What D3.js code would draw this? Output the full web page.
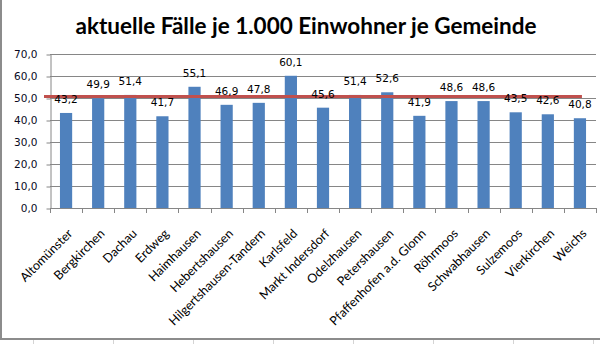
<!DOCTYPE html>
<html>
<head>
<meta charset="utf-8">
<script src="https://cdn.jsdelivr.net/npm/d3@7"></script>
<style>
  html, body { margin: 0; padding: 0; background: #fff; }
  svg { display: block; }
</style>
</head>
<body>
<svg id="chart" width="600" height="344"></svg>
<script>
// Gemeinden im Landkreis Dachau
const categories = [
  "Altomünster", "Bergkirchen", "Dachau", "Erdweg", "Haimhausen",
  "Hebertshausen", "Hilgertshausen-Tandern", "Karlsfeld", "Markt Indersdorf",
  "Odelzhausen", "Petershausen", "Pfaffenhofen a.d. Glonn", "Röhrmoos",
  "Schwabhausen", "Sulzemoos", "Vierkirchen", "Weichs"
];
// aktuelle Fälle je 1.000 Einwohner
const values = [
  43.2, 49.9, 51.4, 41.7, 55.1, 46.9, 47.8, 60.1, 45.6,
  51.4, 52.6, 41.9, 48.6, 48.6, 43.5, 42.6, 40.8
];
// Landkreis-Durchschnitt (rote Linie)
const average = [50.7];
const yTicks = [0, 10, 20, 30, 40, 50, 60, 70];
const title = "aktuelle Fälle je 1.000 Einwohner je Gemeinde";

const svg = d3.select("#chart");
const plot = { left: 50, right: 596, top: 54, bottom: 208 };

const x = d3.scaleBand()
  .domain(categories)
  .range([plot.left, plot.right])
  .paddingInner(0.62)
  .paddingOuter(0.31);

const y = d3.scaleLinear()
  .domain([0, 70])
  .range([plot.bottom, plot.top]);

const fmt = v => d3.format(".1f")(v).replace(".", ",");
const gridColor = "#868686";

// Rahmen des Diagrammobjekts (links und unten sichtbar)
svg.append("line")
  .attr("x1", 1).attr("x2", 1).attr("y1", 0).attr("y2", 339)
  .attr("stroke", "#8c8c8c").attr("stroke-width", 2);
svg.append("line")
  .attr("x1", 0).attr("x2", 600).attr("y1", 339).attr("y2", 339)
  .attr("stroke", "#8c8c8c").attr("stroke-width", 2);
// Zellraster des Tabellenblatts unterhalb
svg.append("g").selectAll("line")
  .data(d3.range(33, 600, 80))
  .join("line")
  .attr("x1", d => d + 0.5).attr("x2", d => d + 0.5)
  .attr("y1", 340).attr("y2", 344)
  .attr("stroke", "#d4d4d4").attr("stroke-width", 1);

// Titel
svg.append("text")
  .attr("x", 306).attr("y", 34)
  .attr("text-anchor", "middle")
  .attr("font-family", "Lato, 'Open Sans', sans-serif")
  .attr("font-weight", "bold")
  .attr("font-size", 22.5)
  .attr("fill", "#000")
  .text(title);

// Gitternetzlinien
svg.append("g").selectAll("line")
  .data(yTicks.slice(1))
  .join("line")
  .attr("x1", plot.left).attr("x2", plot.right)
  .attr("y1", d => Math.round(y(d)) + 0.5).attr("y2", d => Math.round(y(d)) + 0.5)
  .attr("stroke", gridColor).attr("stroke-width", 1);

// Y-Achse
const yAxis = svg.append("g")
  .attr("transform", `translate(${plot.left + 0.5},0.5)`)
  .call(d3.axisLeft(y).tickValues(yTicks).tickFormat(fmt).tickSize(4).tickSizeOuter(0));
yAxis.select(".domain").attr("stroke", gridColor);
yAxis.selectAll(".tick line").attr("stroke", gridColor);
yAxis.selectAll(".tick text")
  .attr("x", -13)
  .attr("font-family", "'DejaVu Sans', Verdana, sans-serif")
  .attr("font-size", 10.5)
  .attr("fill", "#0a0a1e");

// Balken
svg.append("g").selectAll("rect")
  .data(values)
  .join("rect")
  .attr("x", (d, i) => x(categories[i]))
  .attr("width", x.bandwidth())
  .attr("y", d => y(d))
  .attr("height", d => y(0) - y(d))
  .attr("fill", "#4F81BD");

// X-Achse
const xTickPos = categories.map(c => x(c) - x.step() * x.paddingInner() / 2);
xTickPos.push(plot.right);
const xg = svg.append("g");
xg.append("line")
  .attr("x1", plot.left).attr("x2", plot.right)
  .attr("y1", plot.bottom + 0.5).attr("y2", plot.bottom + 0.5)
  .attr("stroke", gridColor);
xg.selectAll("line.tick")
  .data(xTickPos)
  .join("line")
  .attr("class", "tick")
  .attr("x1", d => Math.round(d) + 0.5).attr("x2", d => Math.round(d) + 0.5)
  .attr("y1", plot.bottom).attr("y2", plot.bottom + 5)
  .attr("stroke", gridColor);

// Kategorienbeschriftung, um 45° gedreht
xg.selectAll("text")
  .data(categories)
  .join("text")
  .attr("transform", d => `translate(${x(d) + x.bandwidth() / 2 + 1},${plot.bottom + 20}) rotate(-45)`)
  .attr("text-anchor", "end")
  .attr("dy", "0.71em")
  .attr("font-family", "Lato, 'Open Sans', sans-serif")
  .attr("font-size", 12.5)
  .attr("fill", "#000")
  .text(d => d);

// Durchschnittslinie
svg.append("g").selectAll("line")
  .data(average)
  .join("line")
  .attr("x1", plot.left - 6)
  .attr("x2", x(categories[categories.length - 1]) + x.bandwidth() / 2 + 2)
  .attr("y1", d => y(d)).attr("y2", d => y(d))
  .attr("stroke", "#C0504D").attr("stroke-width", 3);

// Datenbeschriftungen
svg.append("g").selectAll("text")
  .data(values)
  .join("text")
  .attr("x", (d, i) => x(categories[i]) + x.bandwidth() / 2)
  .attr("y", d => y(d) - 10)
  .attr("text-anchor", "middle")
  .attr("font-family", "'DejaVu Sans', Verdana, sans-serif")
  .attr("font-size", 10.5)
  .attr("fill", "#000")
  .text(fmt);
</script>
</body>
</html>
